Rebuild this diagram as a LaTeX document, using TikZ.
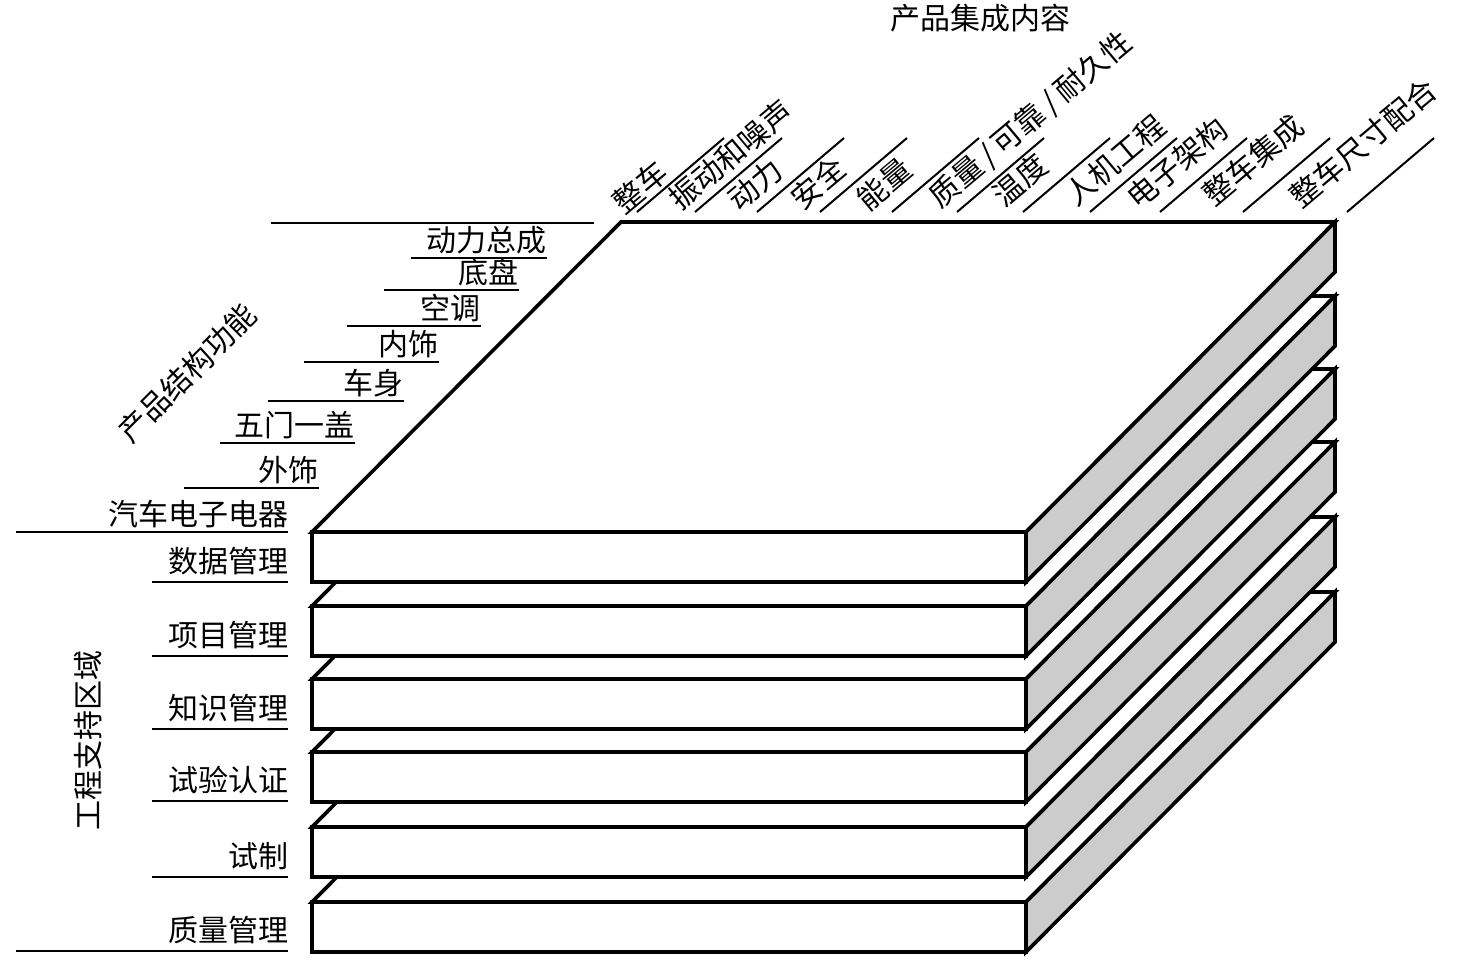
\documentclass[tikz,border=0pt]{standalone}
\usepackage{fontspec}
\newfontfamily\cjk{Noto Sans CJK SC}
\usetikzlibrary{positioning}
\definecolor{sideface}{RGB}{204,204,204}

\begin{document}
\begin{tikzpicture}[x=0.5pt, y=-0.5pt,
    every node/.style={font=\cjk\fontsize{15}{18}\selectfont, inner sep=0pt},
    slab/.style={draw=black, line width=1.8pt, line join=miter},
    rule/.style={draw=black, line width=1pt},
    leftlab/.style={anchor=base east},
    toplab/.style={rotate=40}]
    \useasboundingbox (0,0) rectangle (1474,965);

    % layers, lowest first
    \foreach \yt in {902,827,752,679,606,532} {
        \filldraw[slab, fill=white] (312,\yt) -- ++(309,-310) -- ++(714,0) -- ++(-309,310) -- cycle;
        \filldraw[slab, fill=sideface] (1026,\yt) -- ++(309,-310) -- ++(0,50) -- ++(-309,310) -- cycle;
        \filldraw[slab, fill=white] (312,\yt) rectangle ++(714,50);
    }

    % product structure
    \node[rotate=45] (struct) at (187,373) {产品结构功能};
    \draw[rule] (271,223) -- (594,223);
    \node[leftlab] (dlzc) at (547,251) {动力总成};
    \draw[rule] (411,258) -- (547,258);
    \node[leftlab] (dp) at (519,283) {底盘};
    \draw[rule] (384,290) -- (519,290);
    \node[leftlab] (kt) at (481,319) {空调};
    \draw[rule] (347,326) -- (481,326);
    \node[leftlab] (ns) at (439,355) {内饰};
    \draw[rule] (304,362) -- (439,362);
    \node[leftlab] (cs) at (404,394) {车身};
    \draw[rule] (268,401) -- (404,401);
    \node[leftlab] (wmyg) at (355,436) {五门一盖};
    \draw[rule] (220,443) -- (355,443);
    \node[leftlab] (ws) at (319,481) {外饰};
    \draw[rule] (184,488) -- (319,488);
    \node[leftlab] (qcdz) at (289,525) {汽车电子电器};
    \draw[rule] (16,532) -- (288,532);

    % engineering support
    \node[rotate=90] (support) at (88,740) {工程支持区域};
    \node[leftlab] (sjgl) at (289,572) {数据管理};
    \draw[rule] (152,582) -- (288,582);
    \node[leftlab] (xmgl) at (289,646) {项目管理};
    \draw[rule] (152,656) -- (288,656);
    \node[leftlab] (zsgl) at (289,719) {知识管理};
    \draw[rule] (152,729) -- (288,729);
    \node[leftlab] (syrz) at (289,791) {试验认证};
    \draw[rule] (152,801) -- (288,801);
    \node[leftlab] (sz) at (289,867) {试制};
    \draw[rule] (152,877) -- (288,877);
    \node[leftlab] (zlgl) at (289,941) {质量管理};
    \draw[rule] (16,951) -- (288,951);

    % integration content
    \node (integ) at (980,18) {产品集成内容};
    \node[toplab] (zc) at (640,187) {整车};
    \draw[rule] (637,212) -- ++(87,-74);
    \node[toplab] (zdzs) at (731,155) {振动和噪声};
    \draw[rule] (695,212) -- ++(87,-74);
    \node[toplab] (dl) at (755,185) {动力};
    \draw[rule] (757,212) -- ++(87,-74);
    \node[toplab] (aq) at (818,183) {安全};
    \draw[rule] (820,212) -- ++(87,-74);
    \node[toplab] (nl) at (884,184) {能量};
    \draw[rule] (892,212) -- ++(87,-74);
    \node[toplab] (zlkk) at (1031,120) {质量\,/\,可靠\,/\,耐久性};
    \draw[rule] (957,212) -- ++(87,-74);
    \node[toplab] (wd) at (1020,180) {温度};
    \draw[rule] (1023,212) -- ++(87,-74);
    \node[toplab] (rjgc) at (1115,160) {人机工程};
    \draw[rule] (1090,212) -- ++(87,-74);
    \node[toplab] (dzjg) at (1177,163) {电子架构};
    \draw[rule] (1160,212) -- ++(87,-74);
    \node[toplab] (zcjc) at (1253,160) {整车集成};
    \draw[rule] (1243,212) -- ++(87,-74);
    \node[toplab] (zcch) at (1363,143) {整车尺寸配合};
    \draw[rule] (1347,212) -- ++(87,-74);
\end{tikzpicture}
\end{document}
